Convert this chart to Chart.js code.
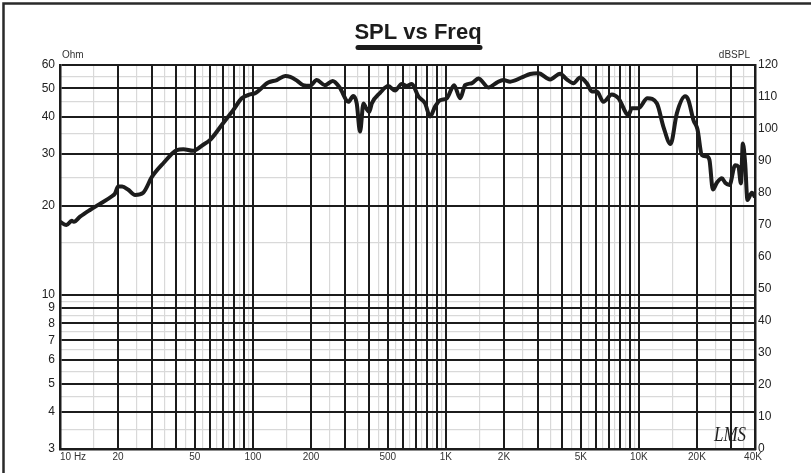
<!DOCTYPE html>
<html>
<head>
<meta charset="utf-8">
<script src="https://cdn.jsdelivr.net/npm/chart.js@4.4.1/dist/chart.umd.min.js"></script>
<style>
  html, body { margin: 0; padding: 0; background: #fff; }
  #wrap { width: 811px; height: 473px; }
</style>
</head>
<body>
<div id="wrap"><canvas id="splChart" width="811" height="473"></canvas></div>
<script>
// ---- data (SPL on the right dB axis) ----
const freqHz = [
  10, 10.8, 11.5, 11.8, 12.7, 14.3, 16.1, 18.5, 19.3, 20, 21, 22.6, 24.5, 27,
  30, 34.3, 40.3, 43.6, 49, 55, 60, 70, 79, 87.5, 96.6, 102, 120, 133, 147,
  156, 169, 182, 198, 214, 236, 259, 282, 312, 331, 345, 359, 374, 386, 401,
  413, 456, 503, 545, 590, 627, 666, 720, 780, 828, 879, 933, 1011, 1103,
  1185, 1258, 1362, 1474, 1661, 1836, 1987, 2153, 2475, 2733, 3017, 3468,
  3909, 4233, 4581, 4962, 5376, 5706, 6056, 6555, 7244, 7839, 8834, 9200,
  9950, 11080, 12400, 13410, 14600, 15740, 17380, 18070, 19190, 20130,
  21210, 22520, 23230, 24190, 25370, 26940, 28020, 29490, 31570, 32840,
  33800, 34600, 35570, 36560, 38530, 40000
];
const splDb = [
  71.0, 70.0, 71.3, 71.0, 72.6, 74.7, 76.6, 78.9, 79.9, 82.0, 82.0, 81.0, 79.4, 80.1,
  85.1, 89.3, 93.4, 93.7, 93.2, 95.0, 96.6, 101.8, 105.9, 109.6, 110.8, 111.1, 114.5, 115.3, 116.6,
  116.3, 115.1, 113.7, 113.5, 115.3, 113.7, 115.0, 112.9, 108.5, 110.3, 108.0, 99.2, 108.0, 106.5, 105.4,
  108.0, 111.3, 113.4, 112.0, 114.1, 113.4, 114.1, 110.2, 108.0, 103.9, 107.0, 109.0, 109.6, 113.7,
  109.6, 113.7, 114.3, 115.8, 113.0, 114.5, 115.3, 114.8, 116.1, 117.2, 117.4, 115.5,
  117.3, 115.5, 114.3, 116.1, 114.3, 111.7, 111.7, 108.5, 110.8, 109.6, 104.4, 106.5,
  106.5, 109.6, 108.0, 100.7, 95.3, 104.9, 110.2, 109.0, 102.8, 99.9,
  91.9, 91.4, 90.3, 81.1, 83.2, 84.6, 83.2, 82.5, 88.7, 88.2,
  83.0, 95.5, 89.3, 77.8, 80.1, 78.7
];

// tick labels
const freqTicks = [10, 20, 50, 100, 200, 500, 1000, 2000, 5000, 10000, 20000, 40000];
const freqTickText = ['10 Hz', '20', '50', '100', '200', '500', '1K', '2K', '5K', '10K', '20K', '40K'];
const ohmTicks = [3, 4, 5, 6, 7, 8, 9, 10, 20, 30, 40, 50, 60];
const ohmMinor = [3.5, 4.5, 5.5, 6.5, 7.5, 8.5, 9.5, 15, 25, 35, 45, 55];

// vertical grid: every 1..9 per decade (black) and the half steps (grey)
const freqMajor = [];
const freqMinor = [];
[10, 100, 1000, 10000].forEach(d => {
  for (let m = 1; m <= 9; m++) {
    if (d * m <= 40000) freqMajor.push(d * m);
    if (d * (m + 0.5) < 40000) freqMinor.push(d * (m + 0.5));
  }
});

const INK = '#1c1c1c';
const GREY = '#d9d9d9';
const FONT = "'Liberation Sans', Arial, sans-serif";
Chart.defaults.font.family = FONT;
Chart.defaults.color = '#222';

const setTicks = list => scale => { scale.ticks = list.map(v => ({ value: v })); };

// frame, title and text that are not tick labels
const decor = {
  id: 'decor',
  beforeDraw(chart) {
    const c = chart.ctx;
    c.save();
    c.fillStyle = '#fff';
    c.fillRect(0, 0, chart.width, chart.height);
    c.restore();
  },
  afterDraw(chart) {
    const c = chart.ctx;
    const xs = chart.scales.x;
    c.save();
    // outer frame
    c.strokeStyle = '#2a2a2a';
    c.lineWidth = 2.5;
    c.beginPath();
    c.moveTo(3.5, 473); c.lineTo(3.5, 3.5); c.lineTo(811, 3.5);
    c.stroke();

    // title + underline
    c.fillStyle = INK;
    c.font = 'bold 22px ' + FONT;
    c.textAlign = 'center';
    c.textBaseline = 'alphabetic';
    c.fillText('SPL vs Freq', 418, 39);
    c.lineCap = 'round';
    c.lineWidth = 5;
    c.strokeStyle = INK;
    c.beginPath();
    c.moveTo(358, 47.5); c.lineTo(480, 47.5);
    c.stroke();

    // axis unit names
    c.font = '10px ' + FONT;
    c.fillStyle = '#333';
    c.textBaseline = 'middle';
    c.textAlign = 'left';
    c.fillText('Ohm', 62, 55);
    c.textAlign = 'right';
    c.fillText('dBSPL', 750, 55);

    // frequency labels
    c.font = '10px ' + FONT;
    c.fillStyle = '#333';
    freqTicks.forEach((v, i) => {
      const px = xs.getPixelForValue(v);
      c.textAlign = i === 0 ? 'left' : 'center';
      c.fillText(freqTickText[i], i === 0 ? px : px - (i === freqTicks.length - 1 ? 2 : 0), 457);
    });

    // LMS mark
    c.translate(714, 441);
    c.scale(0.85, 1);
    c.font = 'italic 20px "Liberation Serif", serif';
    c.fillStyle = '#222';
    c.textAlign = 'left';
    c.textBaseline = 'alphabetic';
    c.fillText('LMS', 0, 0);
    c.restore();
  }
};

new Chart(document.getElementById('splChart'), {
  type: 'line',
  data: {
    datasets: [{
      label: 'SPL',
      data: freqHz.map((f, i) => ({ x: f, y: splDb[i] })),
      xAxisID: 'x',
      yAxisID: 'yDb',
      borderColor: INK,
      borderWidth: 4,
      pointRadius: 0,
      cubicInterpolationMode: 'monotone',
      fill: false
    }]
  },
  options: {
    responsive: false,
    animation: false,
    devicePixelRatio: 1,
    layout: { padding: { top: 65, left: 0, right: 0, bottom: 0 } },
    plugins: { legend: { display: false }, tooltip: { enabled: false }, title: { display: false } },
    scales: {
      xMinor: {
        type: 'logarithmic', position: 'bottom', min: 10, max: 40000, z: -1,
        afterBuildTicks: setTicks(freqMinor),
        afterFit: s => { s.height = 0; },
        ticks: { display: false, autoSkip: false },
        grid: { color: GREY, lineWidth: 1.2, drawTicks: false },
        border: { display: false }
      },
      yMinor: {
        type: 'logarithmic', position: 'left', min: 3, max: 60, z: -1,
        afterBuildTicks: setTicks(ohmMinor),
        afterFit: s => { s.width = 0; },
        ticks: { display: false, autoSkip: false },
        grid: { color: GREY, lineWidth: 1.2, drawTicks: false },
        border: { display: false }
      },
      x: {
        type: 'logarithmic', position: 'bottom', min: 10, max: 40000,
        afterBuildTicks: setTicks(freqMajor),
        afterFit: s => { s.height = 24; },
        ticks: { display: false, autoSkip: false },
        grid: { color: INK, lineWidth: 2, drawTicks: false },
        border: { color: INK, width: 2.5 }
      },
      yOhm: {
        type: 'logarithmic', position: 'left', min: 3, max: 60,
        afterBuildTicks: setTicks(ohmTicks),
        afterFit: s => { s.width = 60; },
        ticks: { autoSkip: false, padding: 5, font: { size: 12 }, color: '#222', callback: v => String(v) },
        grid: { color: INK, lineWidth: 2, drawTicks: false },
        border: { color: INK, width: 2.5 }
      },
      yDb: {
        type: 'linear', position: 'right', min: 0, max: 120,
        afterFit: s => { s.width = 56; },
        ticks: { stepSize: 10, autoSkip: false, padding: 3, font: { size: 12 }, color: '#222' },
        grid: { display: false, drawTicks: false },
        border: { color: INK, width: 2.5 }
      }
    }
  },
  plugins: [decor]
});
</script>
</body>
</html>
